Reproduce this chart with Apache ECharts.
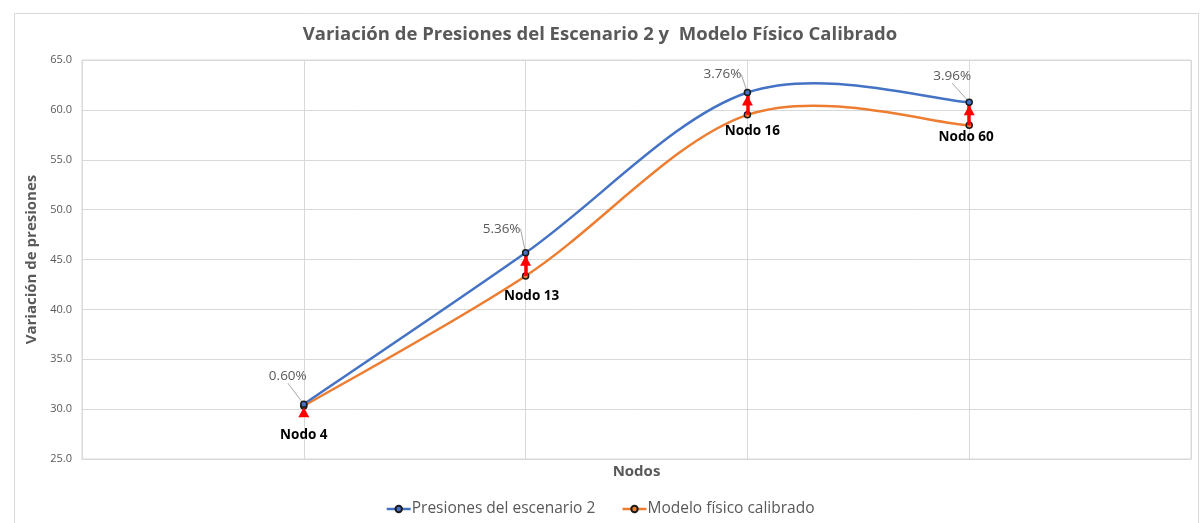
<!DOCTYPE html>
<html>
<head>
<meta charset="utf-8">
<script src="https://cdn.jsdelivr.net/npm/echarts@6/dist/echarts.min.js"></script>
<style>
  html, body { margin: 0; padding: 0; background: #ffffff; }
  #chart { width: 1200px; height: 523px; }
</style>
</head>
<body>
<div id="chart"></div>
<script>
// Nodes along the x axis (empty slots pad both ends of the axis)
const nodes = ['', 'Nodo 4', 'Nodo 13', 'Nodo 16', 'Nodo 60', ''];
// Pressures of scenario 2 and of the calibrated physical model
const escenario2 = [null, 30.50, 45.67, 61.74, 60.77, null];
const modeloCalibrado = [null, 30.32, 43.35, 59.50, 58.45, null];
// Relative difference between both series at each node
const diferencias = ['', '0.60%', '5.36%', '3.76%', '3.96%', ''];
// Y axis ticks
const yMin = 25, yMax = 65, yStep = 5;

// Label placement offsets (px) for the node names and the percentages
const nodeLabelOffset = [null, [0, 29], [6, 20], [5, 16], [-3, 12], null];
const pctLabelOffset = [null, [-16, -28], [-24, -24], [-25, -18], [-17, -26], null];

const FONT = '"Open Sans", "Noto Sans", sans-serif';
const GREY_TEXT = '#595959';
const GRID_LINE = '#d9d9d9';
const BLUE = '#4472C4';
const ORANGE = '#ED7D31';

const blueData = escenario2.map((v, i) => {
  if (v === null) return null;
  return {
    value: v,
    label: {
      show: true,
      position: 'inside',
      formatter: () => diferencias[i],
      color: GREY_TEXT,
      fontSize: 13.5,
      fontFamily: FONT
    }
  };
});

const orangeData = modeloCalibrado.map((v, i) => {
  if (v === null) return null;
  return {
    value: v,
    label: {
      show: true,
      position: 'inside',
      offset: nodeLabelOffset[i],
      formatter: () => nodes[i],
      color: '#000000',
      fontWeight: 'bold',
      fontSize: 13.5,
      fontFamily: FONT
    }
  };
});

// Red arrows from the calibrated model up to scenario 2 at each node
const arrows = [];
nodes.forEach((n, i) => {
  if (escenario2[i] === null) return;
  arrows.push([
    { coord: [n, modeloCalibrado[i]] },
    { coord: [n, escenario2[i]] }
  ]);
});

// Smoothed curve (cardinal spline, tangent = (next - prev) / 6) drawn
// one bezier segment per point through the axis scales.
function smoothCurve(values, color) {
  const valid = values.map((v, i) => (v === null ? -1 : i)).filter(i => i >= 0);
  const first = valid[0], last = valid[valid.length - 1];
  return {
    type: 'custom',
    silent: true,
    z: 2,
    data: valid.map(i => [i, values[i]]),
    encode: { x: 0, y: 1 },
    renderItem: (params, api) => {
      const i = api.value(0);
      if (i >= last) return { type: 'group', children: [] };
      const pt = k => {
        const c = Math.min(Math.max(k, first), last);
        return api.coord([c, values[c]]);
      };
      const p0 = pt(i - 1), p1 = pt(i), p2 = pt(i + 1), p3 = pt(i + 2);
      return {
        type: 'bezierCurve',
        shape: {
          x1: p1[0], y1: p1[1],
          cpx1: p1[0] + (p2[0] - p0[0]) / 6, cpy1: p1[1] + (p2[1] - p0[1]) / 6,
          cpx2: p2[0] - (p3[0] - p1[0]) / 6, cpy2: p2[1] - (p3[1] - p1[1]) / 6,
          x2: p2[0], y2: p2[1]
        },
        style: { stroke: color, lineWidth: 2.5, fill: 'none', lineCap: 'round' }
      };
    }
  };
}

const chart = echarts.init(document.getElementById('chart'), null, { renderer: 'canvas' });

chart.setOption({
  backgroundColor: '#ffffff',
  animation: false,
  textStyle: { fontFamily: FONT },
  title: {
    text: 'Variación de Presiones del Escenario 2 y  Modelo Físico Calibrado',
    left: 'center',
    top: 20,
    textStyle: { fontFamily: FONT, fontSize: 18.5, fontWeight: 'bold', color: GREY_TEXT }
  },
  graphic: [{
    type: 'rect',
    left: 12, top: 11,
    shape: { width: 1184, height: 620 },
    style: { fill: 'none', stroke: GRID_LINE, lineWidth: 1 },
    silent: true,
    z: -1
  }],
  legend: {
    bottom: 1,
    left: 'center',
    itemWidth: 24,
    itemHeight: 8,
    itemGap: 26,
    textStyle: { fontFamily: FONT, fontSize: 15.5, color: GREY_TEXT, padding: [0, 0, 0, -4] },
    data: [
      { name: 'Presiones del escenario 2', lineStyle: { color: BLUE, width: 2.5, opacity: 1 } },
      { name: 'Modelo físico calibrado', lineStyle: { color: ORANGE, width: 2.5, opacity: 1 } }
    ]
  },
  grid: {
    left: 82, right: 9, top: 60, bottom: 64,
    show: true,
    borderColor: GRID_LINE,
    borderWidth: 1
  },
  xAxis: {
    type: 'category',
    data: nodes,
    boundaryGap: false,
    name: 'Nodos',
    nameLocation: 'middle',
    nameGap: 5,
    nameTextStyle: { fontFamily: FONT, fontSize: 15, fontWeight: 'bold', color: GREY_TEXT, verticalAlign: 'top' },
    axisLine: { show: true, lineStyle: { color: GRID_LINE } },
    axisTick: { show: false },
    axisLabel: { show: false },
    splitLine: { show: true, lineStyle: { color: GRID_LINE, width: 1 } }
  },
  yAxis: {
    type: 'value',
    min: yMin,
    max: yMax,
    interval: yStep,
    name: 'Variación de presiones',
    nameLocation: 'middle',
    nameGap: 32,
    nameTextStyle: { fontFamily: FONT, fontSize: 15, fontWeight: 'bold', color: GREY_TEXT },
    axisLine: { show: false },
    axisTick: { show: false },
    axisLabel: {
      margin: 10,
      color: GREY_TEXT,
      fontSize: 11,
      fontFamily: FONT,
      formatter: v => v.toFixed(1)
    },
    splitLine: { show: true, lineStyle: { color: GRID_LINE, width: 1 } }
  },
  series: [
    smoothCurve(modeloCalibrado, ORANGE),
    smoothCurve(escenario2, BLUE),
    {
      name: 'Modelo físico calibrado',
      type: 'line',
      data: orangeData,
      symbol: 'circle',
      symbolSize: 6,
      lineStyle: { color: ORANGE, width: 2.5, opacity: 0 },
      itemStyle: { color: ORANGE, borderColor: '#1a1a1a', borderWidth: 1.5 },
      z: 3,
      markLine: {
        silent: true,
        symbol: ['none', 'triangle'],
        symbolSize: [11, 10],
        symbolOffset: [0, [0, 8]],
        label: { show: false },
        lineStyle: { color: '#ff0000', width: 3.5, type: 'solid', opacity: 1 },
        emphasis: { disabled: true },
        data: arrows,
        z: 4
      }
    },
    {
      name: 'Presiones del escenario 2',
      type: 'line',
      data: blueData,
      symbol: 'circle',
      symbolSize: 6,
      lineStyle: { color: BLUE, width: 2.5, opacity: 0 },
      itemStyle: { color: BLUE, borderColor: '#1a1a1a', borderWidth: 1.5 },
      z: 5,
      labelLine: { show: true, lineStyle: { color: '#a6a6a6', width: 1 } },
      labelLayout: params => {
        const off = pctLabelOffset[params.dataIndex];
        return off ? { dx: off[0], dy: off[1] } : {};
      }
    }
  ]
});
</script>
</body>
</html>
